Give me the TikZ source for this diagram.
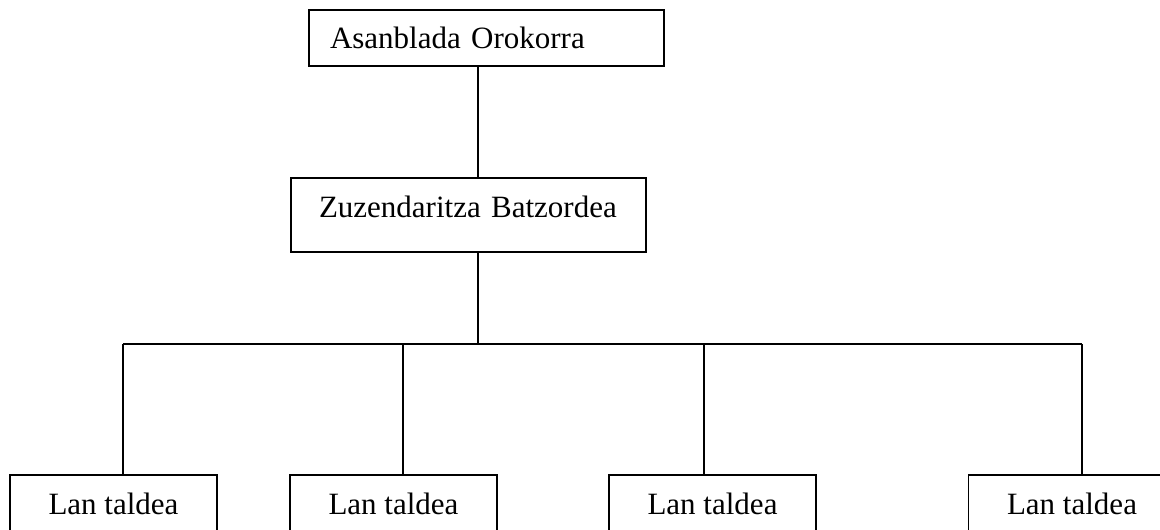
\documentclass[tikz,border=0pt]{standalone}
\usepackage{fontspec}
\setmainfont{Liberation Serif}
\usetikzlibrary{positioning}
\tikzset{
  orgbox/.style   = {draw, line width=1.2pt, inner ysep=0pt, font=\fontsize{31}{36}\selectfont},
  headbox/.style  = {orgbox, minimum height=56pt, align=left},
  groupbox/.style = {orgbox, minimum width=207pt, minimum height=58pt},
  link/.style     = {line width=1.2pt}
}
\begin{document}
\begin{tikzpicture}[x=1pt, y=-1pt]
    \useasboundingbox (0,0) rectangle (1160,530);
    \clip (0,0) rectangle (1160,530);

    % ----- Top levels -----
    \node[headbox, inner xsep=21pt, text width=313pt] (asanblada) at (486.5,38) {Asanblada Orokorra};
    \node[headbox, inner xsep=28pt, text width=299pt, minimum height=74pt, text depth=16pt] (batzordea) at (468.5,215) {Zuzendaritza Batzordea};

    % Trunk and bar
    \coordinate (trunk) at (478,344);
    \draw[link] (asanblada.south -| trunk) -- (batzordea.north -| trunk);
    \draw[link] (batzordea.south -| trunk) -- (trunk);

    % ----- Working groups -----
    \foreach \xc/\xd [count=\i] in {113.5/123, 393.5/403, 712.5/704, 1072/1082}{
      \node[groupbox] (taldea\i) at (\xc,504) {Lan taldea};
      \coordinate (drop\i) at (\xd,344);
      \draw[link] (drop\i) -- (drop\i |- taldea\i.north);
    }
    \draw[link] (drop1) -- (drop4);
\end{tikzpicture}
\end{document}
